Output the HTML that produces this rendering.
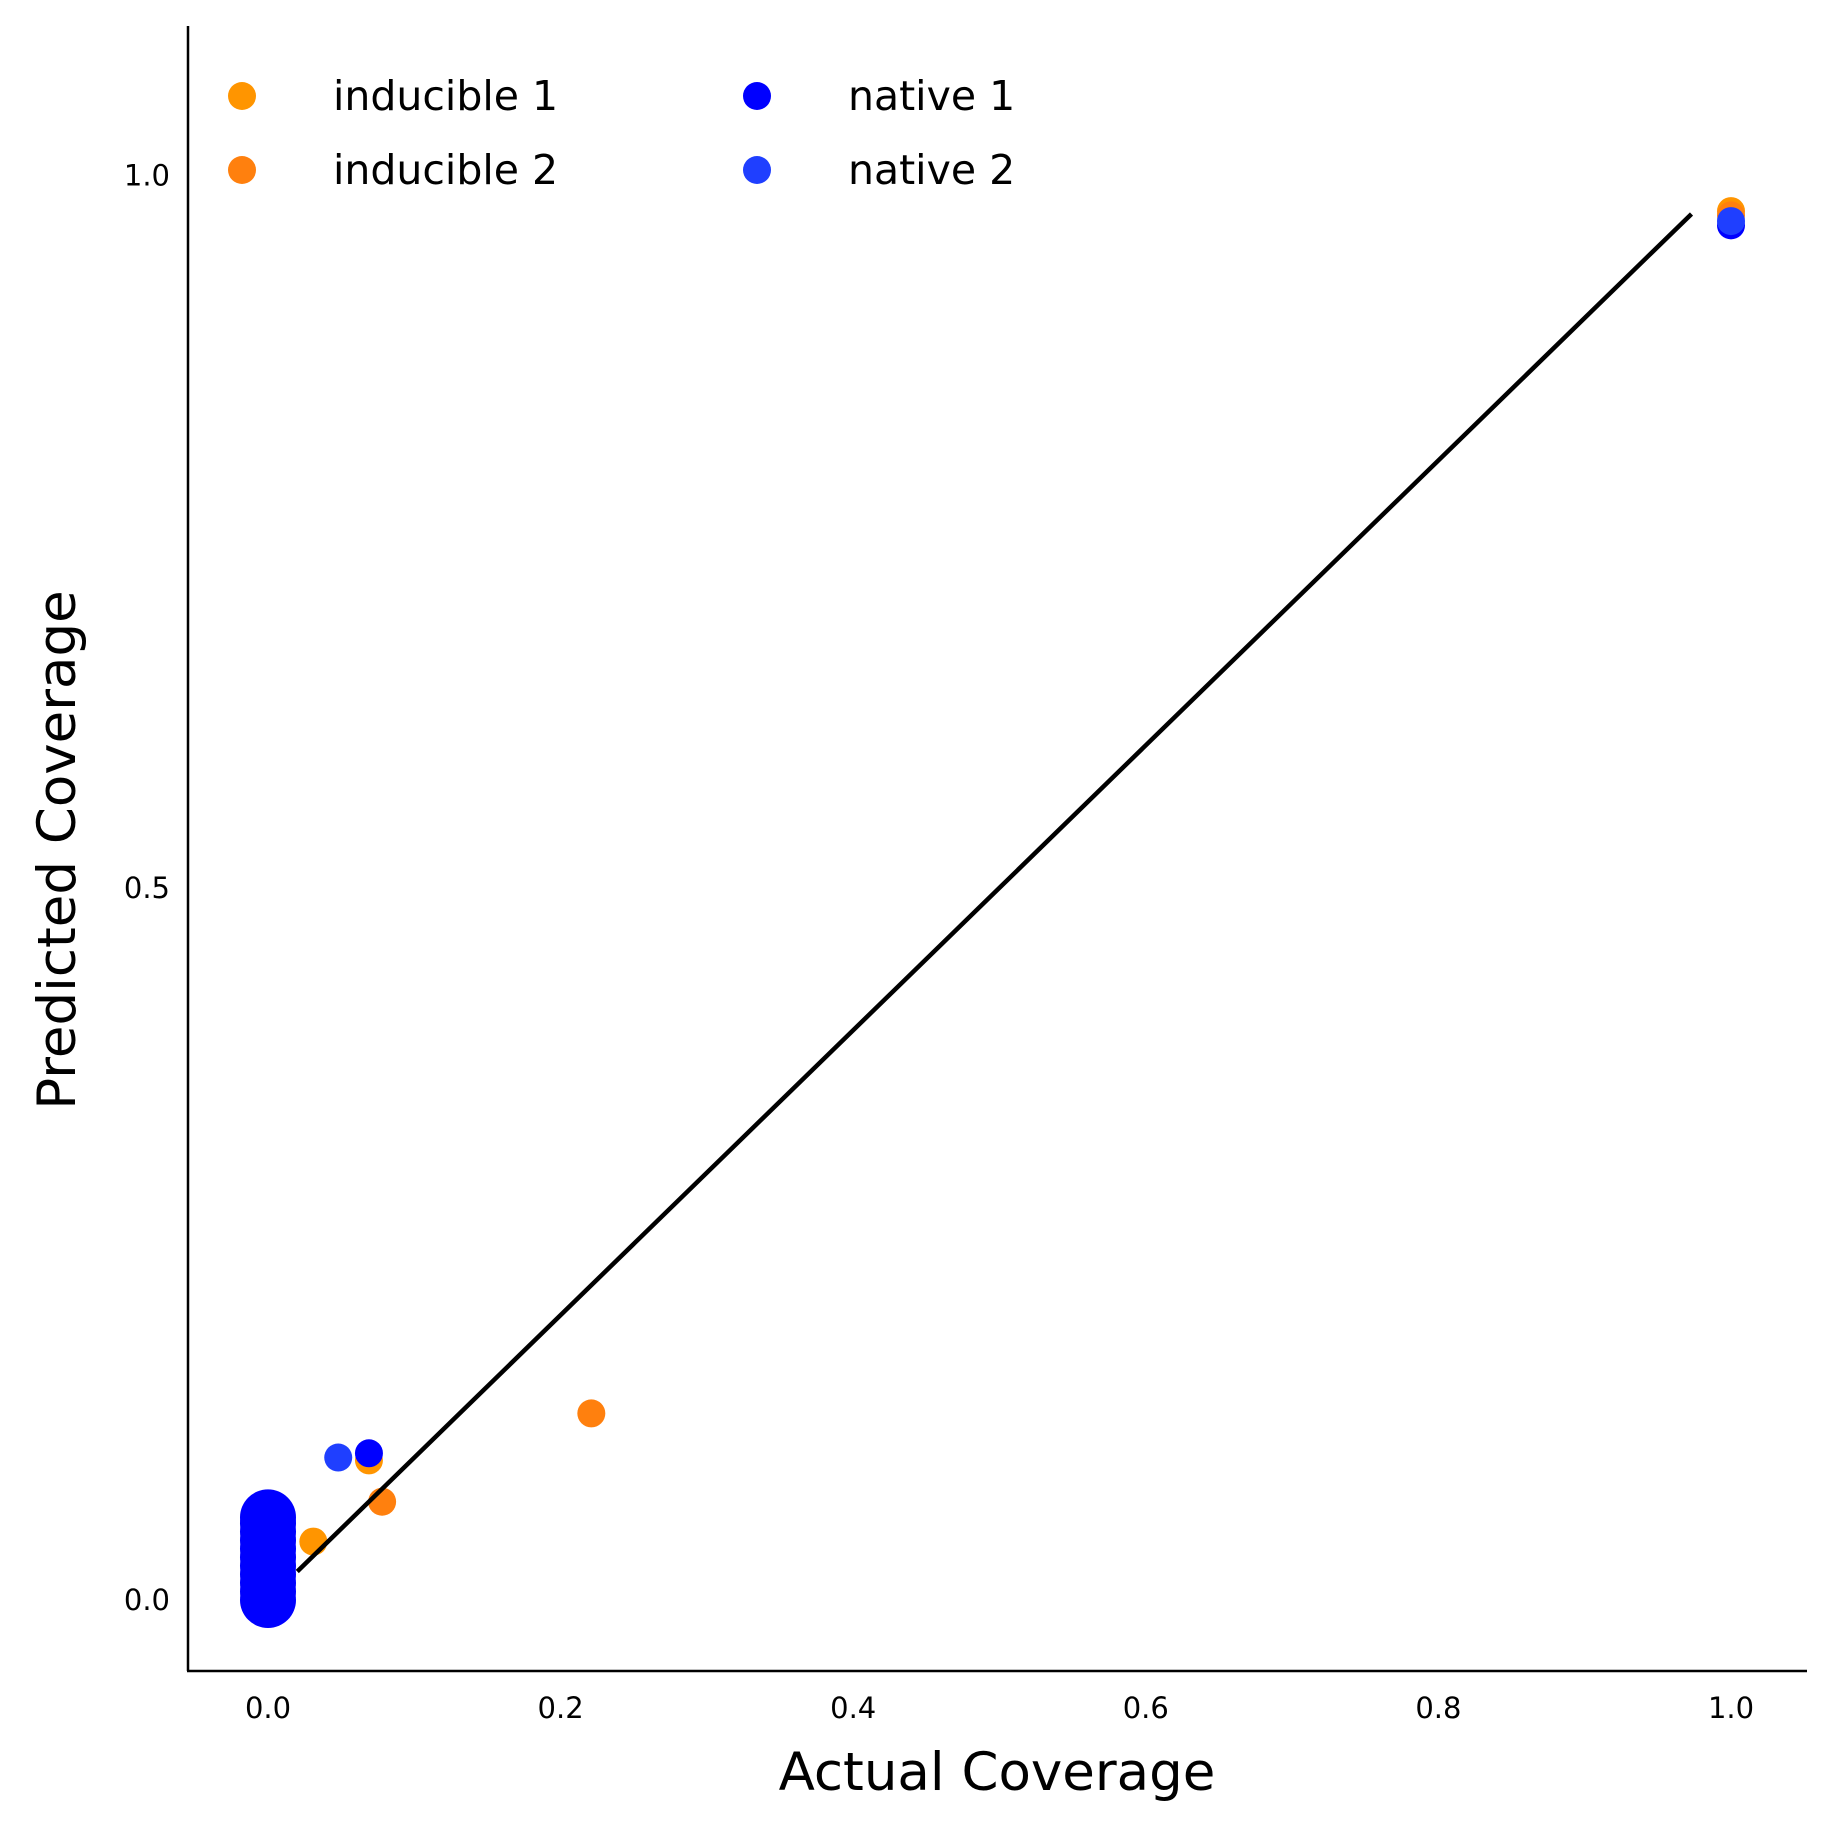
<!DOCTYPE html>
<html><head><meta charset="utf-8"><style>
html,body{margin:0;padding:0;background:#fff}
svg{display:block;font-family:"DejaVu Sans","Liberation Sans",sans-serif}
</style></head><body>
<svg id="chart" width="1834" height="1834" viewBox="0 0 1834 1834" xmlns="http://www.w3.org/2000/svg">
<g id="plot"></g>
<line x1="188" y1="26" x2="188" y2="1671" stroke="#000" stroke-width="2.5"/>
<line x1="187" y1="1671" x2="1807" y2="1671" stroke="#000" stroke-width="2.5"/>
<g id="xticks"></g>
<g id="yticks"></g>
<text x="997" y="1790" font-size="53" text-anchor="middle">Actual Coverage</text>
<text transform="translate(75,850) rotate(-90)" font-size="53" text-anchor="middle">Predicted Coverage</text>
<g id="legend"></g>
</svg>
<script>
const xTicks=[0.0,0.2,0.4,0.6,0.8,1.0];
const yTicks=[0.0,0.5,1.0];
const seriesNames=["inducible 1","inducible 2","native 1","native 2"];
const seriesColors=["#FF9500","#FF800E","#0000FF","#1F3FFF"];
const inducible1X=[1.0,0.031,0.069];
const inducible1Y=[0.975,0.041,0.098];
const inducible2X=[0.221,0.078,1.0];
const inducible2Y=[0.131,0.069,0.972];
const native1X=[0.069,1.0];
const native1Y=[0.103,0.965];
const native2X=[0.048,1.0];
const native2Y=[0.100,0.968];
const blobY=[0.0,0.006,0.012,0.018,0.024,0.030,0.036,0.042,0.048,0.054,0.058];
const fitLine=[0.02,0.973];

const NS="http://www.w3.org/2000/svg";
const sx=v=>268+v*1463;
const sy=v=>1600-v*1424.5;
function mk(tag,attrs,parent){const e=document.createElementNS(NS,tag);for(const k in attrs)e.setAttribute(k,attrs[k]);parent.appendChild(e);return e;}
const plot=document.getElementById('plot');
const xs=[inducible1X,inducible2X,native1X,native2X];
const ys=[inducible1Y,inducible2Y,native1Y,native2Y];
for(let s=0;s<4;s++){
  for(let i=0;i<xs[s].length;i++){
    const c=mk('circle',{cx:sx(xs[s][i]),cy:sy(ys[s][i]),r:14,fill:seriesColors[s]},plot);
    
    
  }
}
for(let i=0;i<blobY.length;i++){
  const c=mk('circle',{cx:sx(0),cy:sy(blobY[i]),r:28,fill:"#0000FF"},plot);
  
  
}
const ln=mk('line',{x1:sx(fitLine[0]),y1:sy(fitLine[0]),x2:sx(fitLine[1]),y2:sy(fitLine[1]),stroke:"#000","stroke-width":4.5},plot);


const xt=document.getElementById('xticks');
xTicks.forEach(v=>{const t=mk('text',{x:sx(v),y:1718,'font-size':29,'text-anchor':'middle'},xt);t.textContent=v.toFixed(1);

});
const yt=document.getElementById('yticks');
yTicks.forEach(v=>{const t=mk('text',{x:170,y:sy(v)+10,'font-size':29,'text-anchor':'end'},yt);t.textContent=v.toFixed(1);

});
const lg=document.getElementById('legend');
const lx=[242,242,757,757], ly=[96,170,96,170], tx=[333,333,848,848];
for(let s=0;s<4;s++){
  const g=mk('g',{},lg);
  
  
  mk('circle',{cx:lx[s],cy:ly[s],r:14,fill:seriesColors[s]},g);
  const t=mk('text',{x:tx[s],y:ly[s]+14,'font-size':41},g);t.textContent=seriesNames[s];
}
</script>
</body></html>
